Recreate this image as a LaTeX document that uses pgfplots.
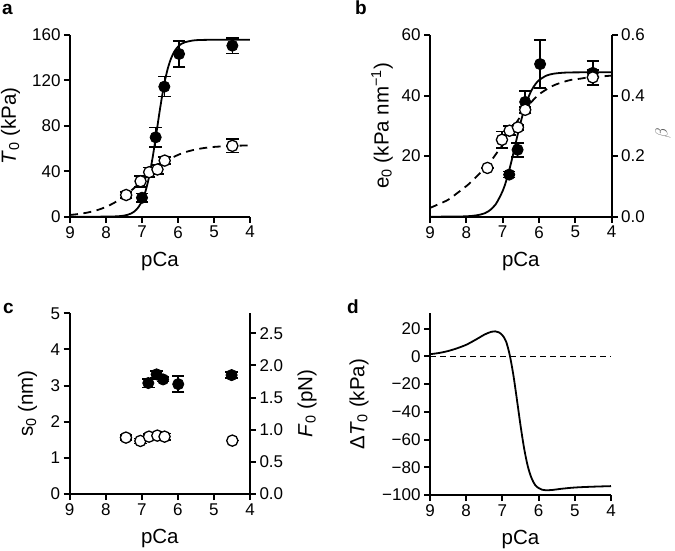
\documentclass[border=0pt]{standalone}
\usepackage{pgfplots}
\pgfplotsset{compat=1.18}
\usepackage{fontspec}
\setmainfont{Liberation Sans}
\begin{document}
\begin{tikzpicture}
\useasboundingbox (0pt,0pt) rectangle (675pt,-551pt);
\pgfplotsset{
  every axis/.append style={
    scale only axis,
    x dir=reverse,
    xmin=4, xmax=9,
    xtick={4,5,6,7,8,9},
    tick align=outside,
    major tick length=6pt,
    tick style={black, line width=2pt},
    axis line style={-, line width=2.3pt, black},
    tick label style={font=\fontsize{17}{17}\selectfont},
    label style={font=\fontsize{20.5}{20.5}\selectfont},
    /pgf/number format/assume math mode=true,
    clip=false,
    xlabel={pCa},
    xlabel style={at={(axis description cs:0.5,-0.245)}, anchor=center},
  },
  fitline/.style={black, line width=1.8pt, no marks, smooth},
  dashfit/.style={black, line width=1.8pt, no marks, smooth, dash pattern=on 8pt off 5.5pt},
  fillpt/.style={only marks, mark=*, mark size=5.6pt,
    mark options={fill=black, draw=black, line width=0.8pt, solid},
    error bars/y dir=both, error bars/y explicit,
    error bars/error bar style={black, line width=1.6pt, solid},
    error bars/error mark options={black, mark size=6.2pt, line width=1.6pt, rotate=90}},
  openpt/.style={only marks, mark=*, mark size=5.6pt,
    mark options={fill=white, draw=black, line width=1.3pt, solid},
    error bars/y dir=both, error bars/y explicit,
    error bars/error bar style={black, line width=1.6pt, solid},
    error bars/error mark options={black, mark size=6.2pt, line width=1.6pt, rotate=90}},
}
% panel letters
\node[anchor=base west, inner sep=0, font=\fontsize{19}{19}\selectfont\bfseries] at (2pt,-15pt) {a};
\node[anchor=base west, inner sep=0, font=\fontsize{19}{19}\selectfont\bfseries] at (355pt,-15pt) {b};
\node[anchor=base west, inner sep=0, font=\fontsize{19}{19}\selectfont\bfseries] at (3pt,-313pt) {c};
\node[anchor=base west, inner sep=0, font=\fontsize{19}{19}\selectfont\bfseries] at (347pt,-313pt) {d};

% ---------------- panel a
\begin{axis}[at={(70pt,-216.7pt)}, anchor=south west, width=180pt, height=181.7pt,
  axis x line*=bottom, axis y line*=left,
  ymin=0, ymax=160, ytick={0,40,80,120,160},
  ylabel={\textit{T}\textsubscript{0} (kPa)},
  ylabel style={at={(axis description cs:-0.33,0.5)}, anchor=center}]
\addplot[dashfit] coordinates {(9.0,1.54) (8.75,2.41) (8.5,3.74) (8.25,5.73) (8.0,8.62) (7.75,12.65) (7.5,17.94) (7.25,24.37) (7.0,31.5) (6.75,38.63) (6.5,45.06) (6.25,50.36) (6.0,54.4) (5.75,57.27) (5.5,59.26) (5.25,60.59) (5.0,61.46) (4.5,62.38) (4.0,62.75)};
\addplot[fitline] coordinates {(9.0,0) (8.0,0.06) (7.8,0.18) (7.6,0.55) (7.5,0.96) (7.4,1.66) (7.3,2.86) (7.2,4.90) (7.1,8.33) (7.0,13.92) (6.9,22.71) (6.8,35.63) (6.7,52.97) (6.6,73.6) (6.5,94.8) (6.4,113.7) (6.3,128.5) (6.2,138.8) (6.1,145.5) (6.0,149.7) (5.9,152.3) (5.8,153.7) (5.6,155.1) (5.4,155.6) (5.0,155.8) (4.5,155.8) (4.0,155.8)};
\addplot[fillpt] table[x index=0, y index=1, y error index=2, row sep=\\] {
7.00 16.7 3.7 \\ 6.62 69.9 8.5 \\ 6.38 114.5 8.8 \\ 5.97 143.3 11.5 \\ 4.49 150.6 6.8 \\};
\addplot[openpt] table[x index=0, y index=1, y error index=2, row sep=\\] {
7.44 19.1 2.5 \\ 7.04 31.2 4.8 \\ 6.80 39.2 4.0 \\ 6.57 41.6 4.0 \\ 6.37 49.4 3.0 \\ 4.49 62.4 6.0 \\};
\end{axis}

% ---------------- panel b (left axis e0)
\begin{axis}[at={(430pt,-216.7pt)}, anchor=south west, width=181.7pt, height=181.7pt,
  axis x line*=bottom, axis y line*=left,
  ymin=0, ymax=60, ytick={20,40,60},
  ylabel={e\textsubscript{0} (kPa nm\textsuperscript{−1})},
  ylabel style={at={(axis description cs:-0.264,0.5)}, anchor=center}]
\addplot[fitline] coordinates {(9.0,0) (8.0,0.13) (7.6,0.74) (7.4,1.73) (7.2,3.95) (7.0,8.49) (6.9,11.97) (6.8,16.29) (6.7,21.25) (6.6,26.46) (6.5,31.40) (6.4,35.73) (6.3,39.22) (6.2,41.86) (6.1,43.75) (6.0,45.08) (5.8,46.57) (5.6,47.22) (5.3,47.57) (5.0,47.66) (4.0,47.70)};
\addplot[fillpt] table[x index=0, y index=1, y error index=2, row sep=\\] {
6.82 13.9 1.0 \\ 6.59 22.1 2.3 \\ 6.38 37.9 3.6 \\ 5.97 50.4 7.9 \\ 4.52 47.5 3.9 \\};
\end{axis}
% ---------------- panel b (right axis beta)
\begin{axis}[at={(430pt,-216.7pt)}, anchor=south west, width=181.7pt, height=181.7pt,
  axis x line=none, axis y line*=right, xlabel={},
  ymin=0, ymax=0.6, ytick={0,0.2,0.4,0.6},
  yticklabel style={/pgf/number format/fixed, /pgf/number format/fixed zerofill, /pgf/number format/precision=1},
  ylabel={$\beta$},
  ylabel style={at={(axis description cs:1.282,0.46)}, anchor=center, font=\fontsize{19}{19}\selectfont, text=black!65}]
\addplot[dashfit] coordinates {(9.0,0.029) (8.75,0.042) (8.5,0.056) (8.25,0.078) (7.95,0.106) (7.7,0.135) (7.4,0.172) (7.13,0.216) (6.95,0.245) (6.76,0.285) (6.6,0.315) (6.39,0.352) (6.2,0.380) (6.03,0.401) (5.8,0.420) (5.57,0.435) (5.3,0.446) (5.11,0.452) (4.85,0.456) (4.65,0.460) (4.3,0.463) (4.0,0.466)};
\addplot[openpt] table[x index=0, y index=1, y error index=2, row sep=\\] {
7.42 0.161 0.0 \\ 7.02 0.254 0.028 \\ 6.81 0.284 0.015 \\ 6.58 0.295 0.008 \\ 6.38 0.353 0.010 \\ 4.52 0.460 0.025 \\};
\end{axis}

% ---------------- panel c (left axis s0)
\begin{axis}[at={(69.7pt,-494pt)}, anchor=south west, width=180.3pt, height=180.7pt,
  axis x line*=bottom, axis y line*=left,
  ymin=0, ymax=5, ytick={0,1,2,3,4,5},
  ylabel={s\textsubscript{0} (nm)},
  ylabel style={at={(axis description cs:-0.233,0.5)}, anchor=center}]
\addplot[fillpt] table[x index=0, y index=1, y error index=2, row sep=\\] {
6.82 3.07 0.12 \\ 6.59 3.31 0.10 \\ 6.41 3.17 0.06 \\ 5.99 3.04 0.22 \\ 4.51 3.29 0.08 \\};
\end{axis}
% ---------------- panel c (right axis F0)
\begin{axis}[at={(69.7pt,-494pt)}, anchor=south west, width=180.3pt, height=180.7pt,
  axis x line=none, axis y line*=right, xlabel={},
  ymin=0, ymax=2.81, ytick={0,0.5,1,1.5,2,2.5},
  yticklabel style={/pgf/number format/fixed, /pgf/number format/fixed zerofill, /pgf/number format/precision=1},
  ylabel={\textit{F}\textsubscript{0} (pN)},
  ylabel style={at={(axis description cs:1.317,0.5)}, anchor=center}]
\addplot[openpt] table[x index=0, y index=1, y error index=2, row sep=\\] {
7.44 0.877 0.04 \\ 7.04 0.825 0.04 \\ 6.80 0.892 0.04 \\ 6.57 0.908 0.04 \\ 6.37 0.892 0.05 \\ 4.49 0.830 0.0 \\};
\end{axis}

% ---------------- panel d
\begin{axis}[at={(430pt,-495pt)}, anchor=south west, width=181pt, height=181.7pt,
  axis x line*=bottom, axis y line*=left,
  ymin=-100, ymax=31, ytick={-100,-80,-60,-40,-20,0,20},
  yticklabels={−100,−80,−60,−40,−20,0,20},
  ylabel={Δ\textit{T}\textsubscript{0} (kPa)},
  ylabel style={at={(axis description cs:-0.392,0.5)}, anchor=center}]
\addplot[black, line width=1.5pt, dash pattern=on 6pt off 4pt] coordinates {(9,0) (4,0)};
\addplot[fitline] coordinates {(9.0,1.5) (8.75,2.4) (8.5,3.8) (8.25,5.8) (8.0,8.3) (7.75,11.8) (7.5,15.6) (7.4,16.8) (7.3,17.7) (7.2,18.0) (7.1,17.3) (7.0,15.2) (6.9,10.8) (6.8,1.2) (6.7,-13.0) (6.6,-31.0) (6.5,-49.7) (6.4,-66.4) (6.3,-79.1) (6.2,-87.5) (6.1,-92.6) (6.0,-95.0) (5.9,-96.2) (5.8,-96.6) (5.6,-96.3) (5.4,-95.6) (5.0,-94.6) (4.5,-94.0) (4.0,-93.6)};
\end{axis}
\end{tikzpicture}
\end{document}
